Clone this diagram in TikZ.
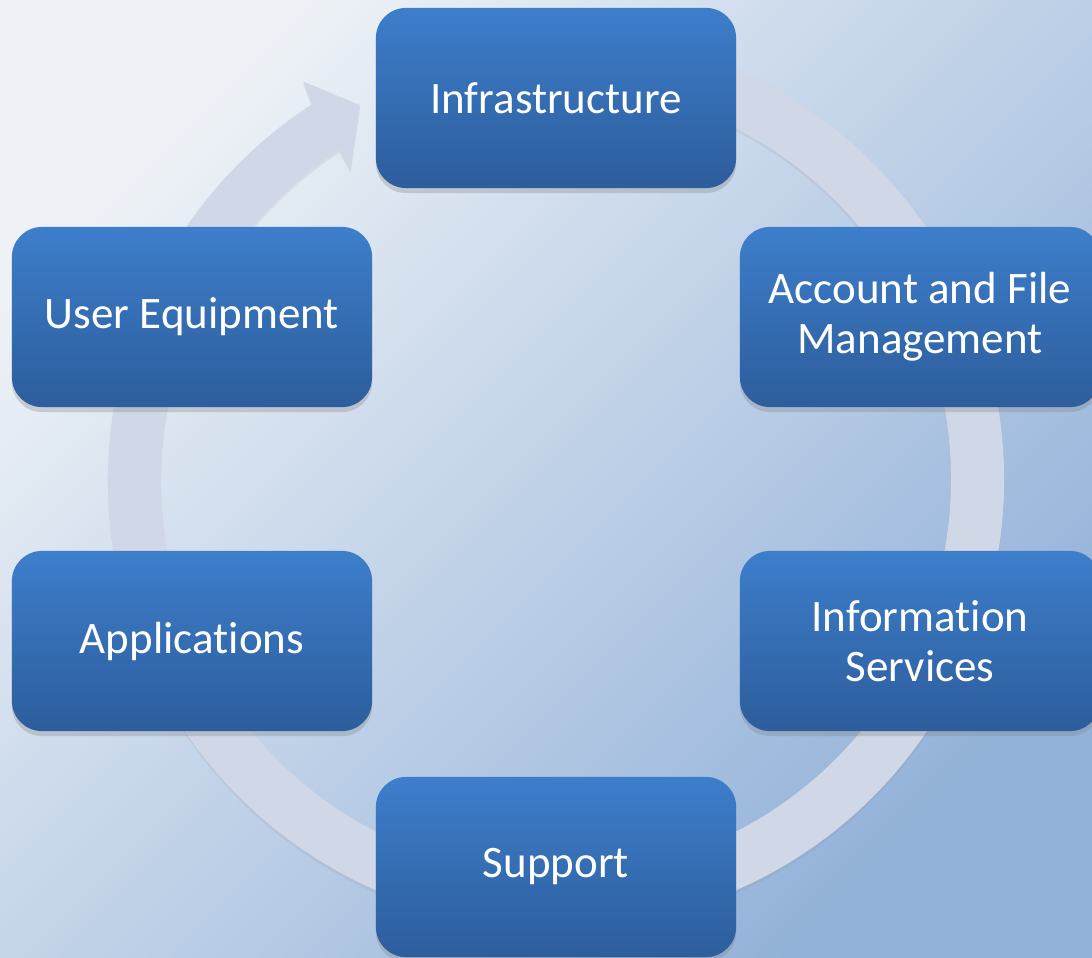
\documentclass[tikz,border=0pt]{standalone}
\usepackage{fontspec}
\setmainfont[Ligatures={NoCommon}]{Carlito}
\usetikzlibrary{shadows}
\definecolor{bgA}{HTML}{EEF2F7}
\definecolor{bgB}{HTML}{93B2D9}
\definecolor{boxTop}{HTML}{3D7ECB}
\definecolor{boxBot}{HTML}{2D5D9C}
\definecolor{ringcol}{HTML}{D0D8E8}
\begin{document}
\begin{tikzpicture}[x=0.01cm,y=0.01cm,
  stage/.style={draw=none, rounded corners=0.3cm, minimum width=3.6cm,
    minimum height=1.8cm, inner sep=0pt, top color=boxTop, bottom color=boxBot,
    text=white, align=center, font=\fontsize{12.8}{14.3}\selectfont,
    drop shadow={shadow xshift=0pt, shadow yshift=-0.05cm, opacity=0.3}},
  cyclering/.style={fill=ringcol,
    drop shadow={shadow xshift=0pt, shadow yshift=-0.03cm, opacity=0.12}}]
\useasboundingbox (0,0) rectangle (1092,957);
\clip (0,0) rectangle (1092,957);
\shade[top color=bgA, bottom color=bgB, shading angle=45] (0,0) rectangle (1092,957);
\coordinate (c) at (556,477);
\path[cyclering] ([shift={(110:448)}]c) arc[start angle=110, end angle=-237, radius=448]
  -- ([shift={(122.4:472)}]c) -- ([shift={(117.6:423)}]c)
  -- ([shift={(123.5:372)}]c) -- ([shift={(123.3:395)}]c)
  arc[start angle=-236.7, end angle=110, radius=395] -- cycle;
\node[stage] (infra) at (556,859) {Infrastructure};
\node[stage] (acct) at (920,640) {Account and File\\Management};
\node[stage] (info) at (920,316) {Informat\kern0pt ion\\Services};
\node[stage] (supp) at (556,90) {Support};
\node[stage] (apps) at (192,316) {Applicat\kern0pt ions};
\node[stage] (user) at (192,640) {User Equipment};
\end{tikzpicture}
\end{document}
